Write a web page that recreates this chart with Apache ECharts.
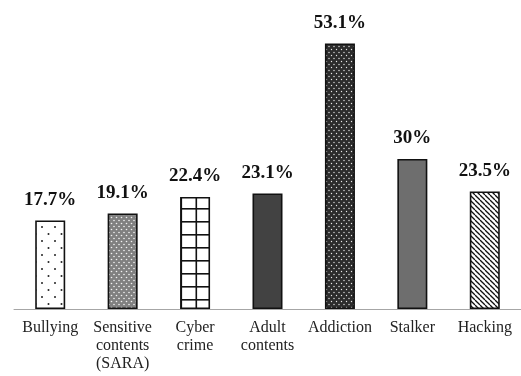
<!DOCTYPE html>
<html>
<head>
<meta charset="utf-8">
<script src="https://cdn.jsdelivr.net/npm/echarts@6/dist/echarts.min.js"></script>
<style>
  html, body { margin: 0; padding: 0; background: #fff; }
  #chart { width: 521px; height: 376px; }
</style>
</head>
<body>
<div id="chart"></div>
<script>
// Online risk categories and the share of respondents (%)
const categories = [
  'Bullying',
  'Sensitive\ncontents\n(SARA)',
  'Cyber\ncrime',
  'Adult\ncontents',
  'Addiction',
  'Stalker',
  'Hacking'
];
const values = [17.7, 19.1, 22.4, 23.1, 53.1, 30, 23.5];

// Small tile helpers for the bar fills
function tile(w, h, draw) {
  const c = document.createElement('canvas');
  c.width = w; c.height = h;
  draw(c.getContext('2d'), w, h);
  return { image: c, repeat: 'repeat' };
}
function dots(bg, fg, w, h, pts, r) {
  return tile(w, h, (ctx) => {
    ctx.fillStyle = bg; ctx.fillRect(0, 0, w, h);
    ctx.fillStyle = fg;
    pts.forEach(p => { ctx.beginPath(); ctx.arc(p[0], p[1], r, 0, Math.PI * 2); ctx.fill(); });
  });
}
const fills = [
  dots('#ffffff', '#222222', 13, 14, [[3, 3], [9.5, 10]], 1.0),
  dots('#808080', '#f2f2f2', 5, 6, [[1.5, 1.5], [4, 4.5]], 0.8),
  tile(15, 13, (ctx, w, h) => {
    ctx.fillStyle = '#ffffff'; ctx.fillRect(0, 0, w, h);
    ctx.fillStyle = '#111111';
    ctx.fillRect(0, 0, w, 1.6);
    ctx.fillRect(0.5, 0, 1.6, h);
  }),
  '#424242',
  dots('#2c2c2c', '#e8e8e8', 5, 6, [[1.5, 1.5], [4, 4.5]], 0.7),
  '#6e6e6e',
  tile(5, 5, (ctx, w, h) => {
    ctx.fillStyle = '#ffffff'; ctx.fillRect(0, 0, w, h);
    ctx.strokeStyle = '#111111'; ctx.lineWidth = 1.3;
    [-w, 0, w].forEach(o => {
      ctx.beginPath(); ctx.moveTo(o, 0); ctx.lineTo(o + w, h); ctx.stroke();
    });
  })
];

const chart = echarts.init(document.getElementById('chart'), null, { renderer: 'canvas' });
chart.setOption({
  backgroundColor: '#ffffff',
  animation: false,
  grid: { left: 14, top: 9, width: 511, height: 300 },
  xAxis: {
    type: 'category',
    data: categories,
    axisLine: { lineStyle: { color: '#a6a6a6', width: 1 } },
    axisTick: { show: false },
    axisLabel: {
      interval: 0,
      margin: 10,
      color: '#222222',
      fontFamily: 'Liberation Serif',
      fontSize: 16,
      lineHeight: 18
    }
  },
  yAxis: {
    type: 'value',
    min: 0,
    max: 60,
    show: false
  },
  series: [{
    type: 'bar',
    barWidth: 30,
    data: values.map((v, i) => ({
      value: v,
      itemStyle: { color: fills[i], borderColor: '#111111', borderWidth: 1.6 }
    })),
    label: {
      show: true,
      position: 'top',
      distance: 11,
      formatter: (p) => p.value + '%',
      color: '#111111',
      fontFamily: 'Liberation Serif',
      fontWeight: 'bold',
      fontSize: 19
    }
  }]
});
</script>
</body>
</html>
